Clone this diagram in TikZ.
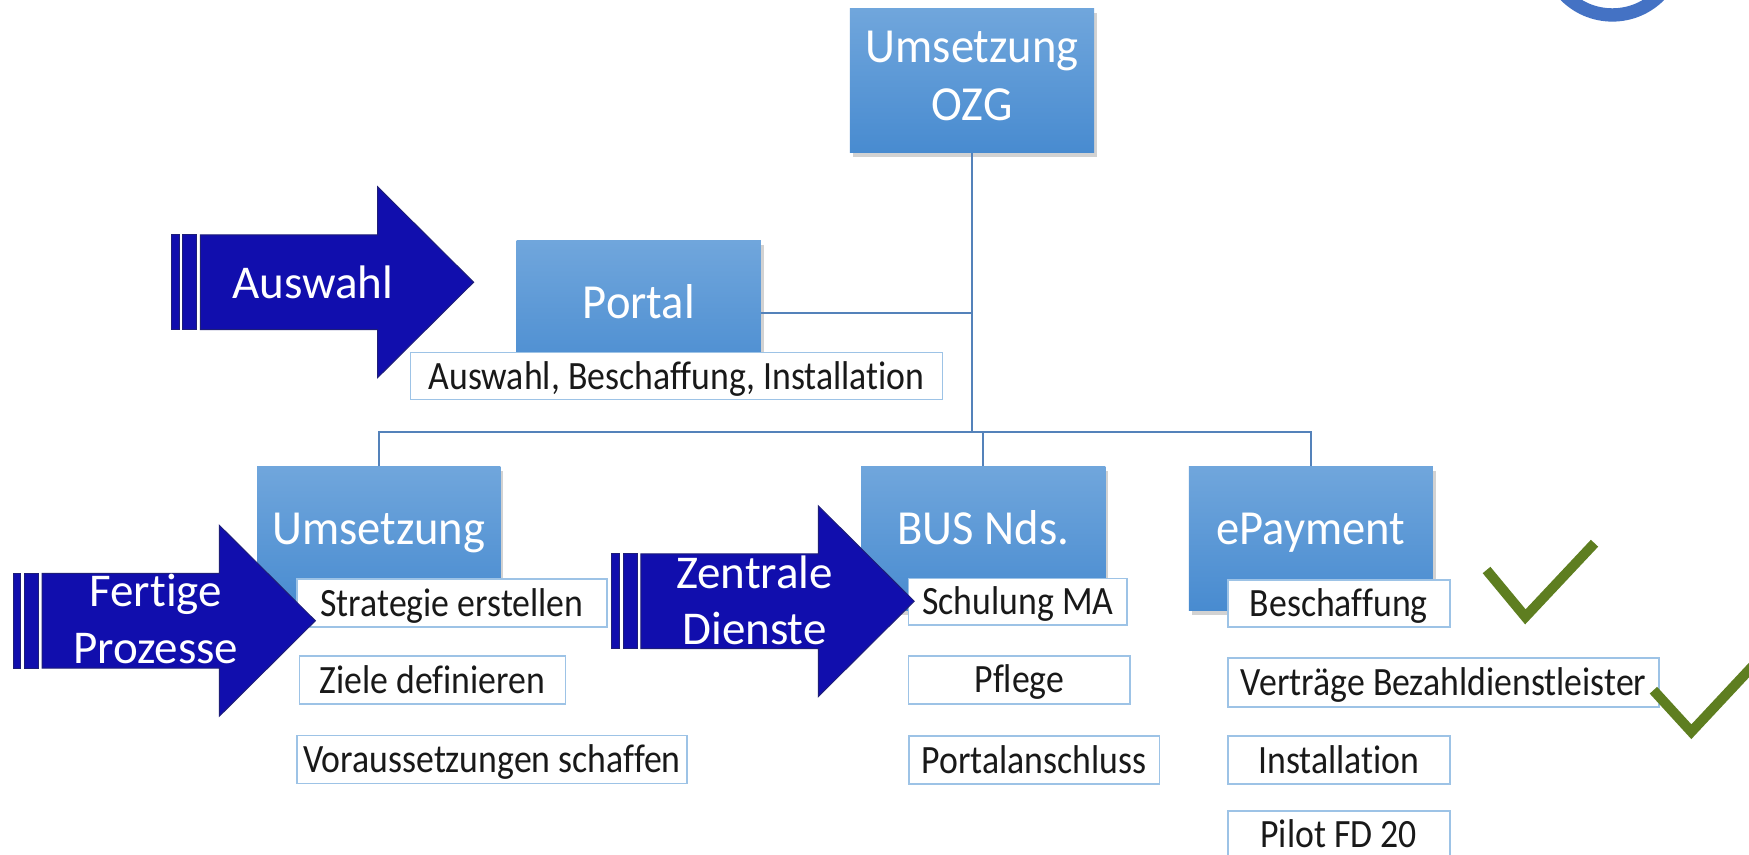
\documentclass[tikz,border=0pt]{standalone}
\usepackage{fontspec}
\setmainfont{Carlito}[Ligatures=NoCommon]
\newfontfamily\subfont{Carlito}[Ligatures=NoCommon, FakeStretch=0.89]
\newfontfamily\titlefont{Carlito}[Ligatures=NoCommon, FakeStretch=0.95]
\usetikzlibrary{shadows}
\definecolor{boxtop}{RGB}{112,166,220}
\definecolor{boxbot}{RGB}{72,139,208}
\definecolor{linec}{RGB}{84,130,186}
\definecolor{subline}{RGB}{157,195,230}
\definecolor{arrowc}{RGB}{17,14,173}
\definecolor{arrowedge}{RGB}{30,30,120}
\definecolor{checkc}{RGB}{94,126,32}
\definecolor{circc}{RGB}{68,114,196}
\newcommand{\dpArrow}[2]{%
  \begin{scope}[shift={(#1,#2)}]
    \filldraw[arrowshape] (0,-42.5) rectangle (7,42.5);
    \filldraw[arrowshape] (10,-42.5) rectangle (23,42.5);
    \filldraw[arrowshape] (26,-42.5) -- (185,-42.5) -- (185,-85.5) -- (271,0) -- (185,85.5) -- (185,42.5) -- (26,42.5) -- cycle;
  \end{scope}}
\begin{document}
\begin{tikzpicture}[x=0.02cm,y=-0.02cm,
  bluebase/.style={rectangle, inner sep=0pt, minimum width=4.38cm, minimum height=2.58cm,
    top color=boxtop, bottom color=boxbot, draw=none, text=white,
    font=\titlefont\fontsize{25pt}{29.8pt}\selectfont,
    drop shadow={shadow xshift=1.5pt, shadow yshift=-2pt, opacity=0.35}},
  bluebox/.style={bluebase, text height=17pt, text depth=11.3pt},
  subbox/.style={rectangle, inner sep=0pt, draw=subline, line width=0.8pt, fill=white,
    minimum height=0.86cm, font=\subfont\fontsize{20.5pt}{24pt}\selectfont, text=black!90,
    text height=16.5pt, text depth=3.2pt},
  conn/.style={draw=linec, line width=1.1pt},
  arrowshape/.style={fill=arrowc, draw=arrowedge, line width=0.5pt},
  arrowtext/.style={text=white, font=\fontsize{24pt}{28.8pt}\selectfont, inner sep=0pt, align=center},
  checkline/.style={draw=checkc, line width=5.1pt, line cap=butt, line join=miter}
]
\useasboundingbox (0,0) rectangle (1568,766.5);
\clip (0,0) rectangle (1568,766.5);
\fill[white] (0,0) rectangle (1568,766.5);

% decorative ring top right
\draw[circc, line width=6.8pt] (1445.5,-46) circle [radius=1.188cm];

% blue boxes
\node[bluebase, align=center] (ozg) at (871.5,72.5) {Umsetzung\\OZG\rule[-5pt]{0pt}{5pt}};
\node[bluebox] (portal) at (572.7,280.5) {Portal};
\node[bluebox, minimum width=4.36cm] (ums) at (339.5,483) {Umsetzung};
\node[bluebox] (bus) at (881.5,483) {BUS Nds.};
\node[bluebox] (epay) at (1175.2,483) {ePayment};

% connectors
\coordinate (hub) at (871.5,387);
\draw[conn] (ozg.south) -- (hub);
\draw[conn] (portal.east) -- (portal.east -| hub);
\draw[conn] (ums.north) |- (hub) -| (epay.north);
\draw[conn] (bus.north) -- (bus.north |- hub);

% sub boxes
\node[subbox, minimum width=9.54cm, minimum height=0.84cm] (portalsub) at (606.5,337.2) {Auswahl, Beschaffung, Installation};
\node[subbox, minimum width=5.56cm] (strat) at (405.2,540.6) {Strategie erstellen};
\node[subbox, minimum width=4.77cm] (ziele) at (387.7,609.8) {Ziele definieren};
\node[subbox, minimum width=7.0cm] (vor) at (441,681) {Voraussetzungen schaffen};
\node[subbox, minimum width=3.92cm, minimum height=0.84cm] (schul) at (912.5,539.5) {Schulung MA};
\node[subbox, minimum width=3.97cm] (pflege) at (913.8,609.5) {Pflege};
\node[subbox, minimum width=4.5cm] (portalan) at (927.2,681.5) {Portalanschluss};
\node[subbox, minimum width=3.98cm, minimum height=0.84cm] (besch) at (1200.2,541) {Beschaffung};
\node[subbox, minimum width=7.73cm, minimum height=0.88cm] (vert) at (1294.2,611.8) {Verträge Bezahldienstleister};
\node[subbox, minimum width=3.98cm] (inst) at (1200.2,681.5) {Installation};
\node[subbox, minimum width=3.98cm] (pilot) at (1200.2,748.5) {Pilot FD 20};

% big arrows
\dpArrow{153.6}{253}
\node[arrowtext, anchor=base] (tauswahl) at (280.4,267.6) {Auswahl};
\dpArrow{11.7}{556.5}
\node[arrowtext] (tfertige) at (139.6,555) {Fertige\\Prozesse};
\dpArrow{548.6}{539}
\node[arrowtext] (tzentrale) at (676.4,538.2) {Zentrale\\Dienste};

% check marks
\draw[checkline] (1332.7,511) -- (1367.5,553) -- (1429.5,487);
\draw[checkline] (1482.3,618.8) -- (1516.3,656) -- (1578,590);
\end{tikzpicture}
\end{document}
